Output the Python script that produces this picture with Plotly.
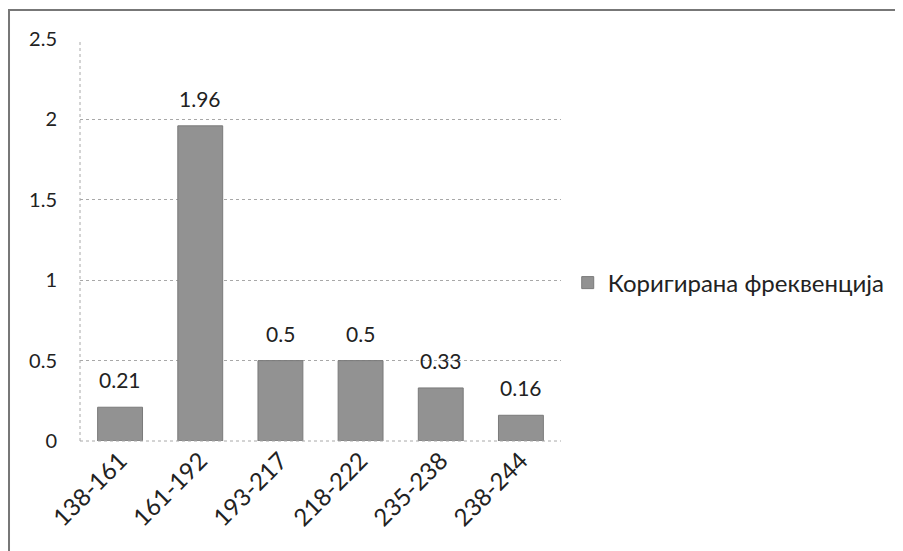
import plotly.graph_objects as go

categories = ["138-161", "161-192", "193-217", "218-222", "235-238", "238-244"]
values = [0.21, 1.96, 0.5, 0.5, 0.33, 0.16]
labels = ["0.21", "1.96", "0.5", "0.5", "0.33", "0.16"]
series_name = "Коригирана фреквенција"
y_ticks = [0, 0.5, 1, 1.5, 2, 2.5]
y_ticktext = ["0", "0.5", "1", "1.5", "2", "2.5"]

FONT = "Lato, 'Open Sans', sans-serif"
TXT = "#222222"

fig = go.Figure()
fig.add_trace(go.Bar(
    x=categories, y=values, name=series_name,
    marker=dict(color="#929292", line=dict(color="#7a7a7a", width=1)),
    showlegend=True,
))

annotations = [
    dict(x=c, y=v, text=t, xref="x", yref="y", showarrow=False,
         yanchor="bottom", yshift=13, font=dict(size=21, family=FONT, color=TXT))
    for c, v, t in zip(categories, values, labels)
]

fig.update_layout(
    width=903, height=551,
    margin=dict(l=72, r=350, t=31, b=118, autoexpand=False),
    paper_bgcolor="white", plot_bgcolor="white",
    bargap=0.44,
    font=dict(family=FONT, size=19, color=TXT),
    showlegend=True,
    legend=dict(x=1.014, y=0.393, xanchor="left", yanchor="middle",
                font=dict(size=24, family=FONT, color=TXT),
                itemwidth=30, tracegroupgap=0),
    xaxis=dict(tickangle=-45, showgrid=False, showline=False, ticks="",
               automargin=False,
               tickfont=dict(size=24, family=FONT, color=TXT)),
    yaxis=dict(range=[0, 2.5], tickvals=y_ticks, ticktext=y_ticktext,
               showgrid=True, gridcolor="#a8a8a8", griddash="dot", gridwidth=1,
               zeroline=False, showline=False, ticks="", automargin=False,
               ticklabelstandoff=22,
               tickfont=dict(size=20, family=FONT, color=TXT)),
    annotations=annotations,
    shapes=[
        dict(type="line", xref="paper", yref="paper", x0=0, x1=0, y0=0, y1=1,
             line=dict(color="#a8a8a8", width=1, dash="dot")),
        dict(type="line", xref="paper", yref="paper", x0=0, x1=1, y0=0, y1=0,
             line=dict(color="#a8a8a8", width=1, dash="dot")),
        dict(type="rect", xref="paper", yref="paper",
             x0=-0.1476, x1=1.714, y0=-0.29, y1=1.0721,
             line=dict(color="#777777", width=2), layer="below"),
    ],
)

fig.write_html("out.html")
